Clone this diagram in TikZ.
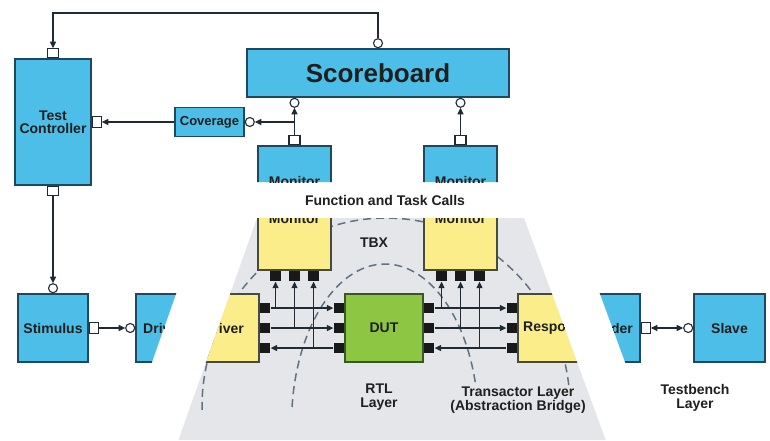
\documentclass[tikz,border=0pt]{standalone}
\usepackage{fontspec}
\setmainfont{Liberation Sans}
\usetikzlibrary{arrows.meta,calc}

\definecolor{tbblue}{RGB}{76,190,231}
\definecolor{tbedge}{RGB}{30,72,96}
\definecolor{xyellow}{RGB}{250,237,138}
\definecolor{xedge}{RGB}{72,74,62}
\definecolor{rtlgreen}{RGB}{141,198,66}
\definecolor{rtledge}{RGB}{56,86,40}
\definecolor{tbxgrey}{RGB}{229,230,233}
\definecolor{wirec}{RGB}{32,42,50}
\definecolor{dashc}{RGB}{96,114,130}

\newcommand\lblfont{\fontsize{14}{13.5}\selectfont\bfseries}
\newcommand\covfont{\fontsize{13}{13}\selectfont\bfseries}
\newcommand\bigfont{\fontsize{26}{26}\selectfont\bfseries}

\begin{document}
\begin{tikzpicture}[x=1pt,y=-1pt,
  box/.style={draw, line width=1.5pt, inner sep=0pt, text=black!88},
  tbbox/.style={box, fill=tbblue, draw=tbedge},
  xbox/.style={box, fill=xyellow, draw=xedge},
  rtlbox/.style={box, fill=rtlgreen, draw=rtledge},
  porth/.style={draw=wirec, fill=white, line width=1.1pt, inner sep=0pt,
                minimum width=11pt, minimum height=9pt},
  portv/.style={porth, minimum width=9pt, minimum height=11pt},
  ring/.style={circle, draw=wirec, fill=white, line width=1.1pt,
               inner sep=0pt, minimum size=9pt},
  pad/.style={fill=black!90, inner sep=0pt, minimum size=10.5pt},
  arr/.style={draw=wirec, line width=1.3pt, -{Triangle[length=6.5pt,width=6pt]}},
  arrboth/.style={draw=wirec, line width=1.3pt,
     {Triangle[length=6.5pt,width=6pt]}-{Triangle[length=6.5pt,width=6pt]}},
  bound/.style={draw=dashc, line width=1.5pt, dash pattern=on 8pt off 5pt},
  txt/.style={font=\lblfont, align=center, inner sep=0pt, text=black!88}
]
\useasboundingbox (0,0) rectangle (770,440);
\fill[white] (0,0) rectangle (770,440);

% ---------------- emulated (TBX) side ----------------
\fill[tbxgrey] (257,218) -- (524,218) -- (605.7,440) -- (178.5,440) -- cycle;

\begin{scope}
  \clip (257,218) -- (524,218) -- (605.7,440) -- (178.5,440) -- cycle;
  % layer boundaries
  \draw[bound] (386,407) ++(179.1:184 and 189)
     arc[start angle=179.1, end angle=353.9, x radius=184, y radius=189];
  \draw[bound] (385,424) ++(186.1:93.5 and 160)
     arc[start angle=186.1, end angle=346.6, x radius=93.5, y radius=160];

  \node[xbox, minimum width=73pt, minimum height=124pt] (monI1) at (294.5,208) {};
  \node[xbox, minimum width=73pt, minimum height=124pt] (monI2) at (460.5,208) {};
  \node[txt] (monI1l) at (294.5,218.5) {Monitor};
  \node[txt] (monI2l) at (460.5,218.5) {Monitor};
  \node[xbox, minimum width=123pt, minimum height=68pt] (drvI) at (197.5,328) {};
  \node[txt, anchor=east] (drvIl) at (244,328) {Driver};
  \node[rtlbox, minimum width=78pt, minimum height=68pt, font=\lblfont] (dut) at (384,328) {DUT};
  \node[xbox, minimum width=122pt, minimum height=68pt] (rspI) at (579,328) {};
  \node[txt, anchor=west] (rspIl) at (523,328) {Respo};

  % signal pins
  \foreach \k/\dy in {1/-20,2/0,3/20}{
    \node[pad, anchor=west] (dP\k) at ($(drvI.east)+(0,\dy)$) {};
    \node[pad, anchor=east] (uL\k) at ($(dut.west)+(0,\dy)$) {};
    \node[pad, anchor=west] (uR\k) at ($(dut.east)+(0,\dy)$) {};
    \node[pad, anchor=east] (rP\k) at ($(rspI.west)+(0,\dy)$) {};
  }
  \foreach \k/\dx in {1/-19,2/0,3/19}{
    \node[pad, anchor=north] (mA\k) at ($(monI1.south)+(\dx,0)$) {};
    \node[pad, anchor=north] (mB\k) at ($(monI2.south)+(\dx,0)$) {};
  }

  % signal wires
  \draw[arr] (dP1.east) -- (uL1.west);
  \draw[arr] (dP2.east) -- (uL2.west);
  \draw[arr] (uL3.west) -- (dP3.east);
  \draw[arr] (uR1.east) -- (rP1.west);
  \draw[arr] (uR2.east) -- (rP2.west);
  \draw[arr] (rP3.west) -- (uR3.east);
  \foreach \k in {1,2,3}{
    \draw[arr] (mA\k.south |- dP\k.east) -- (mA\k.south);
    \draw[arr] (mB\k.south |- uR\k.east) -- (mB\k.south);
  }
\end{scope}

\node[txt] (tbx) at (374,243) {TBX};
\node[txt] (rtl) at (379,397) {RTL\\Layer};
\node[txt] (trl) at (518,400) {Transactor Layer\\(Abstraction Bridge)};

% ---------------- testbench side ----------------
\begin{scope}
  \clip (0,0) -- (770,0) -- (770,440) -- (653.7,440) -- (558.8,182)
        -- (215.5,182) -- (124.5,440) -- (0,440) -- cycle;
  \node[tbbox, minimum width=73pt, minimum height=124pt] (monO1) at (294.5,208) {};
  \node[tbbox, minimum width=73pt, minimum height=124pt] (monO2) at (460.5,208) {};
  \node[txt] (monO1l) at (294.5,181.5) {Monitor};
  \node[txt] (monO2l) at (460.5,181.5) {Monitor};
  \node[tbbox, minimum width=123pt, minimum height=68pt] (drvO) at (197.5,328) {};
  \node[txt, anchor=west] (drvOl) at (143,328) {Driver};
  \node[tbbox, minimum width=122pt, minimum height=68pt] (rspO) at (579,328) {};
  \node[txt, anchor=east] (rspOl) at (633,328) {der};
\end{scope}

\node[tbbox, minimum width=76pt, minimum height=126pt, font=\lblfont, align=center] (tc) at (53,122) {Test\\Controller};
\node[tbbox, minimum width=262pt, minimum height=48pt, font=\bigfont] (sb) at (378,73) {Scoreboard};
\node[tbbox, minimum width=69pt, minimum height=29pt, font=\covfont] (cov) at (209.5,122) {Coverage};
\node[tbbox, minimum width=70pt, minimum height=68pt, font=\lblfont] (stim) at (53,328) {Stimulus};
\node[tbbox, minimum width=71pt, minimum height=68pt, font=\lblfont] (slv) at (729.5,328) {Slave};

% ports
\node[porth, anchor=south] (tcT) at (tc.north) {};
\node[portv, anchor=west] (tcR) at (tc.east) {};
\node[porth, anchor=north] (tcB) at (tc.south) {};
\node[ring, anchor=south] (sbT) at (sb.north) {};
\node[ring, anchor=north] (sbB1) at (sb.south -| monO1.north) {};
\node[ring, anchor=north] (sbB2) at (sb.south -| monO2.north) {};
\node[ring, anchor=west] (covR) at (cov.east) {};
\node[porth, anchor=south] (m1T) at (monO1.north) {};
\node[porth, anchor=south] (m2T) at (monO2.north) {};
\node[ring, anchor=south] (stT) at (stim.north) {};
\node[portv, anchor=west] (stR) at (stim.east) {};
\node[ring, anchor=east] (drvL) at (drvO.west) {};
\node[portv, anchor=west] (rspR) at (rspO.east) {};
\node[ring, anchor=east] (slvL) at (slv.west) {};

% connections
\draw[arr] (sbT.north) -- (sbT.north |- 0,13) -| (tcT.north);
\draw[arr] (tcB.south) -- (stT.north);
\draw[arr] (stR.east) -- (drvL.west);
\draw[arr] (m1T.north) -- (sbB1.south);
\draw[arr] (m1T.north |- covR.east) -- (covR.east);
\draw[arr] (cov.west) -- (tcR.east);
\draw[arr] (m2T.north) -- (sbB2.south);
\draw[arrboth] (rspR.east) -- (slvL.west);

\node[txt] (fcall) at (385,200) {Function and Task Calls};
\node[txt] (tbl) at (695,398) {Testbench\\Layer};
\end{tikzpicture}
\end{document}
